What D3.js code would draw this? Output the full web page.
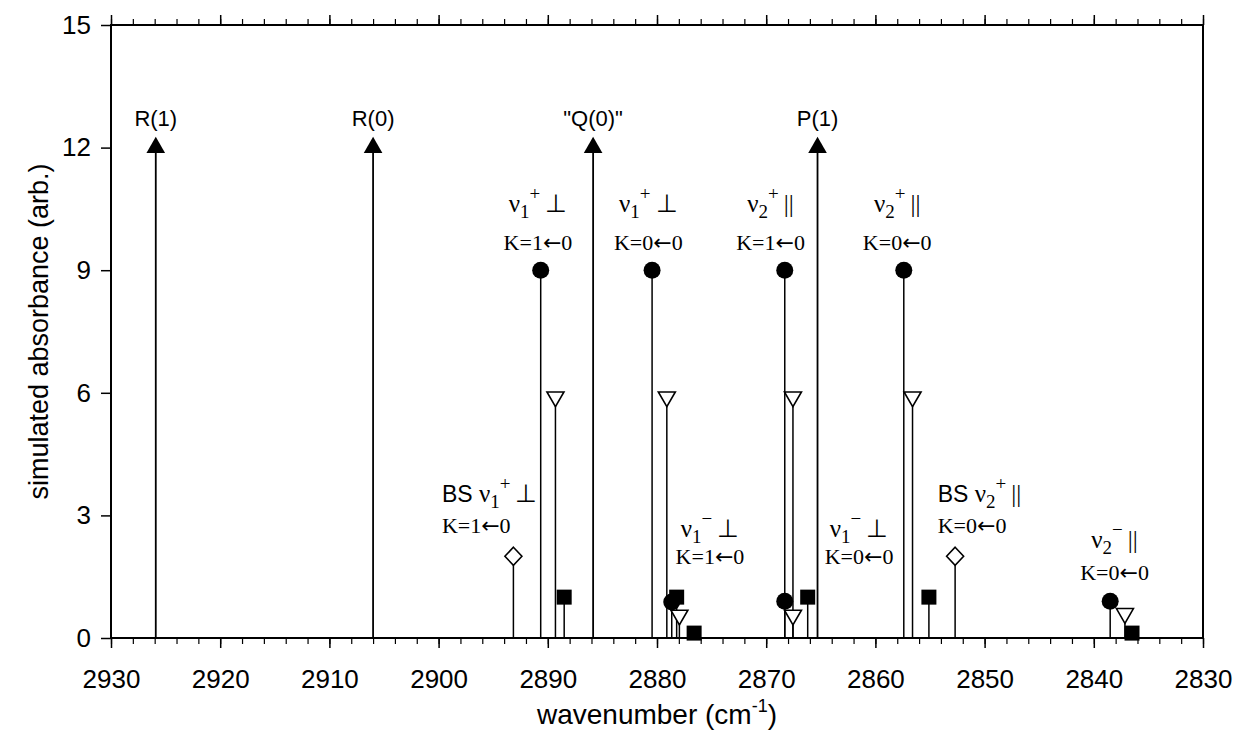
<!DOCTYPE html>
<html><head><meta charset="utf-8">
<script src="https://cdn.jsdelivr.net/npm/d3@7"></script>
<style>
html,body{margin:0;padding:0;background:#fff;}
svg{display:block;}
</style></head>
<body>
<svg id="chart" width="1236" height="749"></svg>
<script>
// ---- data ----
const xDomain = [2930, 2830];
const yDomain = [0, 15];
const xTicks = [2930, 2920, 2910, 2900, 2890, 2880, 2870, 2860, 2850, 2840, 2830];
const yTicks = [0, 3, 6, 9, 12, 15];

const arrowPos = [2925.9, 2906.0, 2885.85, 2865.3];
const arrowVal = [12, 12, 12, 12];
const arrowLabels = ['R(1)', 'R(0)', '"Q(0)"', 'P(1)'];

const circlePos = [2890.65, 2880.45, 2868.3, 2857.4, 2878.65, 2868.3, 2838.5];
const circleVal = [9, 9, 9, 9, 0.88, 0.9, 0.9];

const triPos = [2889.3, 2879.1, 2867.55, 2856.6, 2877.95, 2867.55, 2837.15];
const triVal = [5.9, 5.9, 5.9, 5.9, 0.56, 0.56, 0.6];

const squarePos = [2888.5, 2878.2, 2866.2, 2855.1, 2876.6, 2836.5];
const squareVal = [1, 1, 1, 1, 0.12, 0.12];

const diamondPos = [2893.15, 2852.7];
const diamondVal = [2, 2];

// annotation labels: anchor wavenumber, line-1 baseline value, line-2 baseline value
const annPrefix = ['', '', '', '', '', '', 'BS ', 'BS ', ''];
const annNu     = ['1', '1', '2', '2', '1', '1', '1', '2', '2'];
const annSign   = ['+', '+', '+', '+', '−', '−', '+', '+', '−'];
const annPol    = ['⊥', '⊥', '||', '||', '⊥', '⊥', '⊥', '||', '||'];
const annKfrom  = ['1', '0', '1', '0', '1', '0', '1', '0', '0'];
const annX      = [2890.9, 2880.8, 2869.6, 2858.0, 2875.15, 2861.5, 2899.7, 2854.3, 2838.1];
const annY1     = [10.42, 10.42, 10.42, 10.42, 2.48, 2.48, 3.32, 3.32, 2.2];
const annY2     = [9.5, 9.5, 9.5, 9.5, 1.8, 1.8, 2.58, 2.58, 1.43];
const annAlign  = ['middle', 'middle', 'middle', 'middle', 'middle', 'middle', 'start', 'start', 'middle'];

// ---- layout ----
const svg = d3.select('#chart');
const L = 111, R = 1203, T = 25, B = 638;
const x = d3.scaleLinear().domain(xDomain).range([L, R]);
const y = d3.scaleLinear().domain(yDomain).range([B, T]);
const sans = "'Liberation Sans', Arial, sans-serif";
const serif = "'Liberation Serif', 'Times New Roman', serif";

// frame
svg.append('rect').attr('x', L).attr('y', T).attr('width', R - L).attr('height', B - T)
  .attr('fill', 'none').attr('stroke', '#000').attr('stroke-width', 2);

const minor = d3.range(2930, 2829, -2);
// bottom axis
const xb = svg.append('g').attr('transform', `translate(0,${B})`)
  .call(d3.axisBottom(x).tickValues(xTicks).tickFormat(d3.format('d')).tickSize(10).tickPadding(22));
xb.select('.domain').remove();
xb.selectAll('text').attr('font-family', sans).attr('font-size', 26).attr('fill', '#000');
xb.selectAll('line').attr('stroke-width', 1.5);
svg.append('g').attr('transform', `translate(0,${B})`)
  .call(d3.axisBottom(x).tickValues(minor).tickFormat('').tickSize(6))
  .call(g => g.select('.domain').remove()).selectAll('line').attr('stroke-width', 1.2);
// top axis
svg.append('g').attr('transform', `translate(0,${T})`)
  .call(d3.axisTop(x).tickValues(xTicks).tickFormat('').tickSize(10))
  .call(g => g.select('.domain').remove()).selectAll('line').attr('stroke-width', 1.5);
svg.append('g').attr('transform', `translate(0,${T})`)
  .call(d3.axisTop(x).tickValues(minor).tickFormat('').tickSize(6))
  .call(g => g.select('.domain').remove()).selectAll('line').attr('stroke-width', 1.2);
// left axis
const yl = svg.append('g').attr('transform', `translate(${L},0)`)
  .call(d3.axisLeft(y).tickValues(yTicks).tickFormat(d3.format('d')).tickSize(10).tickPadding(10));
yl.select('.domain').remove();
yl.selectAll('text').attr('font-family', sans).attr('font-size', 26).attr('fill', '#000');
yl.selectAll('line').attr('stroke-width', 1.5);

// axis titles
const xt = svg.append('text').attr('x', (L + R) / 2).attr('y', 724).attr('text-anchor', 'middle')
  .attr('font-family', sans).attr('font-size', 28);
xt.append('tspan').text('wavenumber (cm');
xt.append('tspan').attr('dy', -12).attr('font-size', 18).text('-1');
xt.append('tspan').attr('dy', 12).text(')');
svg.append('text').attr('transform', `translate(48,${(T + B) / 2}) rotate(-90)`)
  .attr('text-anchor', 'middle').attr('font-family', sans).attr('font-size', 27)
  .text('simulated absorbance (arb.)');

// stems
const stems = [];
arrowPos.forEach((p, i) => stems.push([p, arrowVal[i], 1.8]));
circlePos.forEach((p, i) => stems.push([p, circleVal[i], 1.5]));
triPos.forEach((p, i) => stems.push([p, triVal[i], 1.5]));
squarePos.forEach((p, i) => stems.push([p, squareVal[i], 1.5]));
diamondPos.forEach((p, i) => stems.push([p, diamondVal[i], 1.5]));
svg.append('g').selectAll('line').data(stems).join('line')
  .attr('x1', d => x(d[0])).attr('x2', d => x(d[0]))
  .attr('y1', y(0)).attr('y2', d => y(d[1]))
  .attr('stroke', '#000').attr('stroke-width', d => d[2]);

// markers
const sym = (type, size) => d3.symbol().type(type).size(size)();
const mk = svg.append('g');
mk.selectAll('.arr').data(arrowPos).join('path')
  .attr('d', sym(d3.symbolTriangle, 150))
  .attr('transform', (d, i) => `translate(${x(d)},${y(arrowVal[i])})`).attr('fill', '#000');
mk.selectAll('.tri').data(triPos).join('path')
  .attr('d', sym(d3.symbolTriangle, 125))
  .attr('transform', (d, i) => `translate(${x(d)},${y(triVal[i])}) rotate(180)`)
  .attr('fill', '#fff').attr('stroke', '#000').attr('stroke-width', 1.6);
mk.selectAll('.cir').data(circlePos).join('circle')
  .attr('cx', d => x(d)).attr('cy', (d, i) => y(circleVal[i])).attr('r', 8.5).attr('fill', '#000');
mk.selectAll('.sq').data(squarePos).join('rect')
  .attr('x', d => x(d) - 7.5).attr('y', (d, i) => y(squareVal[i]) - 7.5)
  .attr('width', 15).attr('height', 15).attr('fill', '#000');
mk.selectAll('.dia').data(diamondPos).join('path')
  .attr('d', 'M0,-9L8.5,0L0,9L-8.5,0Z')
  .attr('transform', (d, i) => `translate(${x(d)},${y(diamondVal[i])})`)
  .attr('fill', '#fff').attr('stroke', '#000').attr('stroke-width', 1.6);

// arrow labels
svg.append('g').selectAll('text').data(arrowPos).join('text')
  .attr('x', d => x(d)).attr('y', (d, i) => y(arrowVal[i]) - 22)
  .attr('text-anchor', 'middle').attr('font-family', sans).attr('font-size', 22)
  .text((d, i) => arrowLabels[i]);

// annotation labels
annX.forEach((ax, i) => {
  const t = svg.append('text').attr('x', x(ax)).attr('y', y(annY1[i]))
    .attr('text-anchor', annAlign[i]).attr('font-family', serif).attr('font-size', 25);
  if (annPrefix[i]) t.append('tspan').attr('font-family', sans).attr('font-size', 23).text(annPrefix[i]);
  t.append('tspan').text('ν');
  t.append('tspan').attr('dy', 6).attr('font-size', 19).text(annNu[i]);
  t.append('tspan').attr('dy', -18).attr('font-size', 19).text(annSign[i]);
  t.append('tspan').attr('dy', 12).text('\u2009' + annPol[i]);
  const k = svg.append('text').attr('x', x(ax)).attr('y', y(annY2[i]))
    .attr('text-anchor', annAlign[i]).attr('font-family', serif).attr('font-size', 22);
  k.append('tspan').text('K=' + annKfrom[i]);
  k.append('tspan').attr('font-family', "'DejaVu Sans', sans-serif").attr('font-size', 22).text('←');
  k.append('tspan').text('0');
});
</script>
</body></html>
